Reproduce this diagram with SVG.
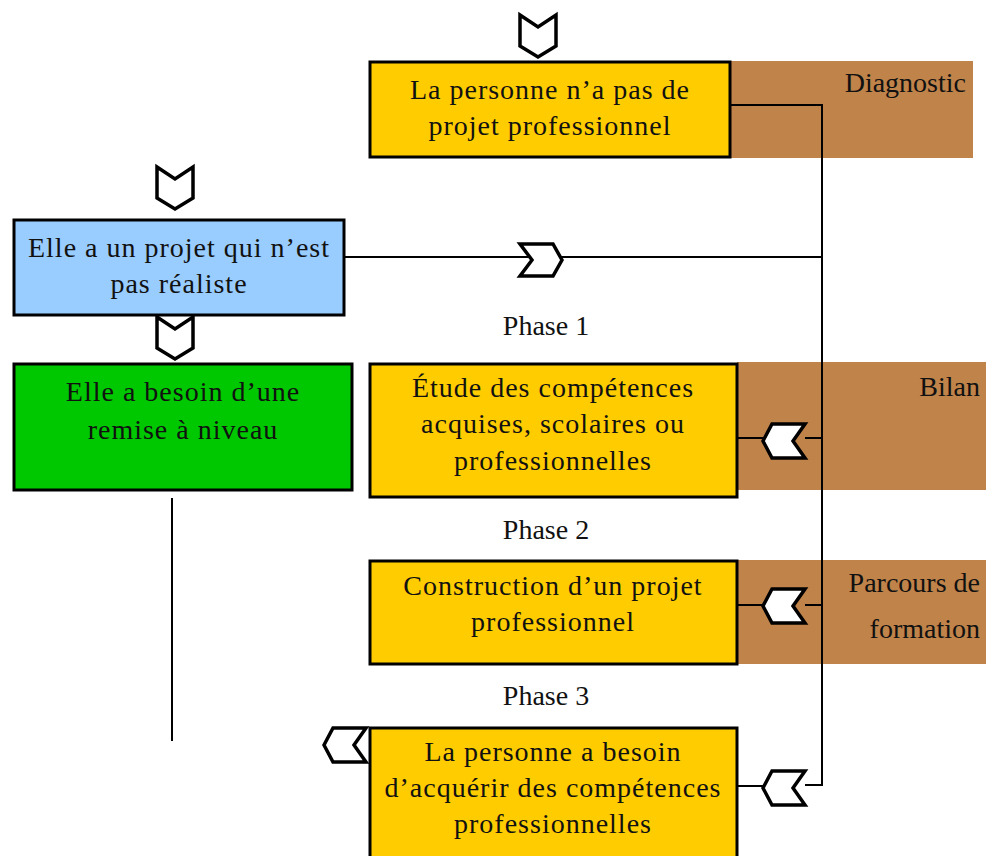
<svg xmlns="http://www.w3.org/2000/svg" width="986" height="856" viewBox="0 0 986 856">
  <defs>
    <style>
      .box { stroke: #000; stroke-width: 3; }
      .yellow { fill: #FFCC00; }
      .blue { fill: #99CCFF; }
      .green { fill: #00C800; }
      .band { fill: #C0834A; }
      .t { font-family: "Liberation Serif", "DejaVu Serif", serif; font-size: 28px; fill: #111; }
      .bt { letter-spacing: 1px; }
      .c { text-anchor: middle; }
      .r { text-anchor: end; }
      .line { stroke: #000; stroke-width: 2; fill: none; }
      .chev { fill: #fff; stroke: #000; stroke-width: 3.5; stroke-linejoin: miter; }
    </style>
    <!-- chevrons drawn around the origin -->
    <polygon id="chev-down" class="chev" points="-18,-21 0,-9 18,-21 18,10 0,21 -18,10"/>
    <polygon id="chev-left" class="chev" points="-21,0 -12,-17 21,-17 9,0 21,17 -12,17"/>
    <polygon id="chev-right" class="chev" points="21,0 12,-16 -21,-16 -9,0 -21,16 12,16"/>
  </defs>

  <!-- coloured phase bands -->
  <g id="bands">
    <rect class="band" x="730" y="61" width="243" height="97"/>
    <rect class="band" x="737" y="362" width="249" height="128"/>
    <rect class="band" x="737" y="560" width="249" height="104"/>
  </g>

  <!-- connectors -->
  <g id="connectors">
    <polyline class="line" points="730,105 822,105 822,785 805,785"/>
    <line class="line" x1="345" y1="257" x2="822" y2="257"/>
    <line class="line" x1="730" y1="438" x2="763" y2="438"/>
    <line class="line" x1="805" y1="438" x2="822" y2="438"/>
    <line class="line" x1="730" y1="605" x2="763" y2="605"/>
    <line class="line" x1="805" y1="605" x2="822" y2="605"/>
    <line class="line" x1="730" y1="786" x2="763" y2="786"/>
    <line class="line" x1="172" y1="498" x2="172" y2="741"/>
    <use href="#chev-down" x="538" y="36"/>
    <use href="#chev-down" x="175" y="188"/>
    <use href="#chev-down" x="175" y="338"/>
    <use href="#chev-right" x="541" y="260"/>
    <use href="#chev-left" x="784" y="441"/>
    <use href="#chev-left" x="784" y="606"/>
    <use href="#chev-left" x="784" y="788"/>
    <use href="#chev-left" x="345" y="745"/>
  </g>

  <g id="node-no-project">
    <rect class="box yellow" x="370" y="62" width="360" height="95"/>
    <text class="t bt c" x="550" y="99">La personne n’a pas de</text>
    <text class="t bt c" x="550" y="135">projet professionnel</text>
  </g>

  <g id="label-diagnostic">
    <text class="t r" x="966" y="92">Diagnostic</text>
  </g>

  <g id="node-unrealistic">
    <rect class="box blue" x="14" y="220" width="330" height="95"/>
    <text class="t bt c" x="179" y="257">Elle a un projet qui n’est</text>
    <text class="t bt c" x="179" y="293">pas réaliste</text>
  </g>

  <g id="node-refresher">
    <rect class="box green" x="14" y="364" width="338" height="126"/>
    <text class="t bt c" x="183" y="401">Elle a besoin d’une</text>
    <text class="t bt c" x="183" y="439">remise à niveau</text>
  </g>

  <g id="phase-labels">
    <text class="t c" x="546" y="335">Phase 1</text>
    <text class="t c" x="546" y="539">Phase 2</text>
    <text class="t c" x="546" y="705">Phase 3</text>
  </g>

  <g id="node-skills">
    <rect class="box yellow" x="370" y="364" width="367" height="133"/>
    <text class="t bt c" x="553" y="397">Étude des compétences</text>
    <text class="t bt c" x="553" y="433">acquises, scolaires ou</text>
    <text class="t bt c" x="553" y="470">professionnelles</text>
  </g>

  <g id="label-bilan">
    <text class="t r" x="980" y="396">Bilan</text>
  </g>

  <g id="node-build-project">
    <rect class="box yellow" x="370" y="561" width="367" height="103"/>
    <text class="t bt c" x="553" y="595">Construction d’un projet</text>
    <text class="t bt c" x="553" y="631">professionnel</text>
  </g>

  <g id="label-parcours">
    <text class="t r" x="980" y="592">Parcours de</text>
    <text class="t r" x="980" y="638">formation</text>
  </g>

  <g id="node-acquire">
    <rect class="box yellow" x="370" y="728" width="367" height="130"/>
    <text class="t bt c" x="553" y="761">La personne a besoin</text>
    <text class="t bt c" x="553" y="797">d’acquérir des compétences</text>
    <text class="t bt c" x="553" y="833">professionnelles</text>
  </g>
</svg>
